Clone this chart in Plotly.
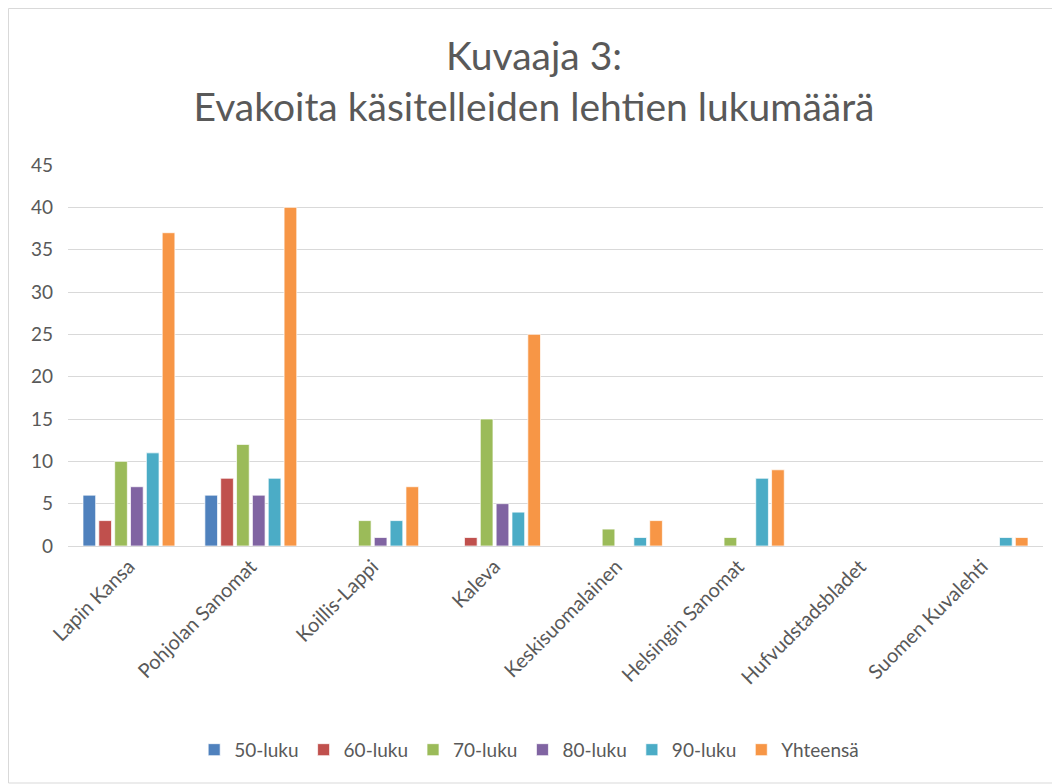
import plotly.graph_objects as go

categories = ['Lapin Kansa', 'Pohjolan Sanomat', 'Koillis-Lappi', 'Kaleva',
              'Keskisuomalainen', 'Helsingin Sanomat', 'Hufvudstadsbladet', 'Suomen Kuvalehti']
luku50 = [6, 6, 0, 0, 0, 0, 0, 0]
luku60 = [3, 8, 0, 1, 0, 0, 0, 0]
luku70 = [10, 12, 3, 15, 2, 1, 0, 0]
luku80 = [7, 6, 1, 5, 0, 0, 0, 0]
luku90 = [11, 8, 3, 4, 1, 8, 0, 1]
yhteensa = [37, 40, 7, 25, 3, 9, 0, 1]

series = [
    ('50-luku', luku50, '#4F81BD'),
    ('60-luku', luku60, '#C0504D'),
    ('70-luku', luku70, '#9BBB59'),
    ('80-luku', luku80, '#8064A2'),
    ('90-luku', luku90, '#4BACC6'),
    ('Yhteensä', yhteensa, '#F79646'),
]

fig = go.Figure()
for name, vals, col in series:
    fig.add_trace(go.Bar(x=categories, y=vals, name=name, marker_color=col,
                         marker_line=dict(color='rgba(255,255,255,0.7)', width=1)))

# page body has an 8px margin, so the figure is 8px smaller than the window
W, H = 1052, 776
ml, mr, mt, mb = 60, 17, 157, 238
pw, ph = W - ml - mr, H - mt - mb

fig.update_layout(
    width=W, height=H,
    margin=dict(l=ml, r=mr, t=mt, b=mb),
    paper_bgcolor='white', plot_bgcolor='white',
    font=dict(family='Lato, Open Sans, sans-serif', color='#595959', size=19),
    title=dict(text='Kuvaaja 3:<br>Evakoita käsitelleiden lehtien lukumäärä',
               x=0.5, xanchor='center', y=0.92, yanchor='top',
               font=dict(size=39, color='#595959')),
    barmode='group', bargap=0.22, bargroupgap=0.2,
    legend=dict(orientation='h', x=0.473, xanchor='center', y=-0.535, yanchor='middle',
                font=dict(size=19, color='#595959'), itemwidth=30, traceorder='normal'),
    xaxis=dict(tickangle=-45, showgrid=False, showline=True, linecolor='#D9D9D9',
               linewidth=1, ticks='', tickfont=dict(size=20)),
    yaxis=dict(range=[0, 45], dtick=5, showgrid=True, gridcolor='#D9D9D9',
               zeroline=False, showline=False, ticks='', ticklabelstandoff=14,
               tickfont=dict(size=19)),
    shapes=[dict(type='rect', xref='paper', yref='paper',
                 x0=(-ml + 0.5) / pw, x1=(W - ml - 1) / pw,
                 y0=-(H - mt - ph - 1) / ph, y1=1 + (mt - 0.5) / ph,
                 line=dict(color='#D9D9D9', width=1), fillcolor='rgba(0,0,0,0)')],
)

fig.write_html('out.html')
